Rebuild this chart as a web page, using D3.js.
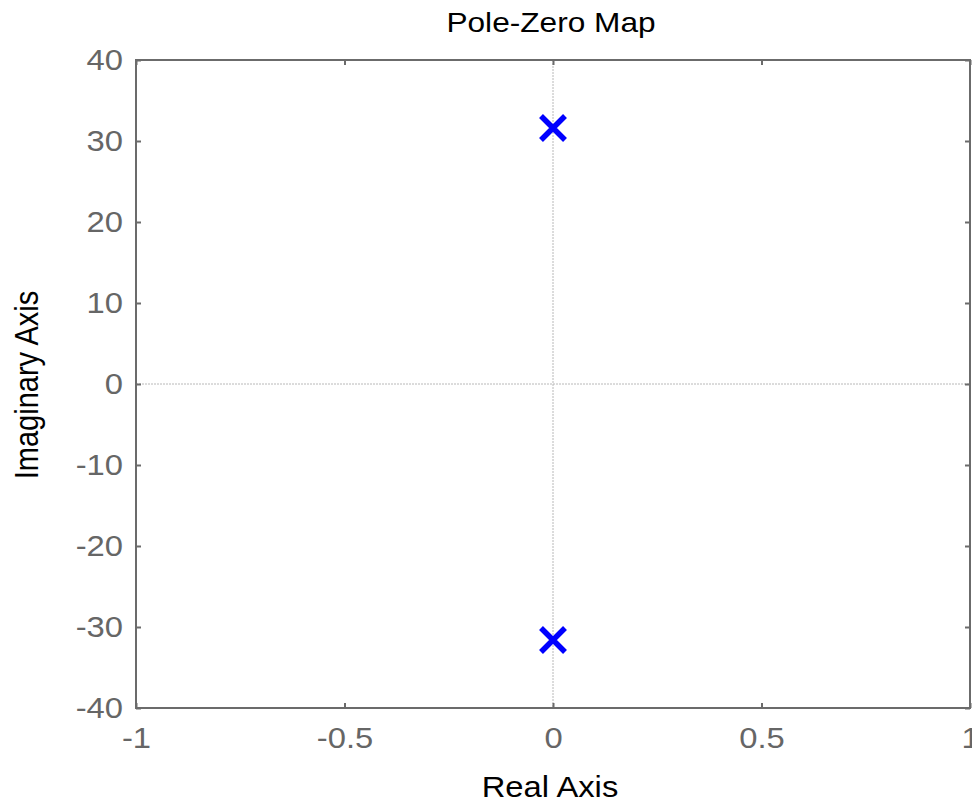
<!DOCTYPE html>
<html><head><meta charset="utf-8">
<script src="https://cdn.jsdelivr.net/npm/d3@7"></script>
<style>body{margin:0;background:#fff}svg{display:block}</style>
</head><body>
<svg id="c" width="972" height="800"></svg>
<script>
const poleRe = [0, 0];
const poleIm = [31.6, -31.6];
const xTicks = [-1, -0.5, 0, 0.5, 1];
const yTicks = [-40, -30, -20, -10, 0, 10, 20, 30, 40];
const xTickLabels = ["-1", "-0.5", "0", "0.5", "1"];
const yTickLabels = ["-40", "-30", "-20", "-10", "0", "10", "20", "30", "40"];

(function(){
const svg = d3.select("#c");
const L = 136, R = 970, T = 60, B = 708;
const x = d3.scaleLinear().domain([-1, 1]).range([L, R]);
const y = d3.scaleLinear().domain([-40, 40]).range([B, T]);
const font = "'Liberation Sans', Arial, sans-serif";
const axisCol = "#6b6b6b";
const sx = 1.13; // horizontal glyph stretch seen in the reference

// dotted zero lines
svg.append("line").attr("x1", x(0)).attr("x2", x(0)).attr("y1", T).attr("y2", B)
  .attr("stroke", "#b8b8b8").attr("stroke-width", 1).attr("stroke-dasharray", "2,1");
svg.append("line").attr("x1", L).attr("x2", R).attr("y1", y(0)).attr("y2", y(0))
  .attr("stroke", "#b8b8b8").attr("stroke-width", 1).attr("stroke-dasharray", "2,1");

const tl = 5;
const axB = d3.axisBottom(x).tickValues(xTicks).tickSize(-tl).tickPadding(19)
  .tickFormat((d, i) => xTickLabels[i]);
const axT = d3.axisTop(x).tickValues(xTicks).tickSize(-tl).tickFormat("");
const axL = d3.axisLeft(y).tickValues(yTicks).tickSize(-tl).tickPadding(12)
  .tickFormat((d, i) => yTickLabels[i]);
const axR = d3.axisRight(y).tickValues(yTicks).tickSize(-tl).tickFormat("");

function style(g){
  g.selectAll(".tick line").attr("stroke", axisCol).attr("stroke-width", 2);
  g.selectAll(".tick text").attr("fill", "#666").attr("font-size", 29).attr("font-family", font);
}
svg.append("g").attr("transform", `translate(0,${B})`).call(axB).call(style)
  .selectAll(".tick text").attr("transform", `scale(${sx},1)`);
svg.append("g").attr("transform", `translate(0,${T})`).call(axT).call(style);
const gl = svg.append("g").attr("transform", `translate(${L},0)`).call(axL).call(style);
gl.selectAll(".tick text").attr("x", -13 / sx).attr("transform", `scale(${sx},1)`);
svg.append("g").attr("transform", `translate(${R},0)`).call(axR).call(style);
svg.selectAll(".domain").remove();
svg.append("rect").attr("x", L).attr("y", T).attr("width", R - L).attr("height", B - T)
  .attr("fill", "none").attr("stroke", axisCol).attr("stroke-width", 2);

// poles
const s = 12;
const pg = svg.append("g");
poleRe.forEach((re, i) => {
  const cx = x(re), cy = y(poleIm[i]);
  pg.append("path").attr("d", `M${cx-s},${cy-s}L${cx+s},${cy+s}M${cx-s},${cy+s}L${cx+s},${cy-s}`)
    .attr("stroke", "#0000ff").attr("stroke-width", 5.5).attr("fill", "none");
});

// titles
svg.append("text").attr("transform", `translate(551,32) scale(${sx},1)`).attr("text-anchor", "middle")
  .attr("font-family", font).attr("font-size", 28).attr("fill", "#000").text("Pole-Zero Map");
svg.append("text").attr("transform", `translate(550,797) scale(${sx},1)`).attr("text-anchor", "middle")
  .attr("font-family", font).attr("font-size", 29).attr("fill", "#000").text("Real Axis");
svg.append("text").attr("transform", `translate(38,385) scale(${sx},1) rotate(-90)`).attr("text-anchor", "middle")
  .attr("font-family", font).attr("font-size", 29).attr("fill", "#000").text("Imaginary Axis");
})();
</script>
</body></html>
